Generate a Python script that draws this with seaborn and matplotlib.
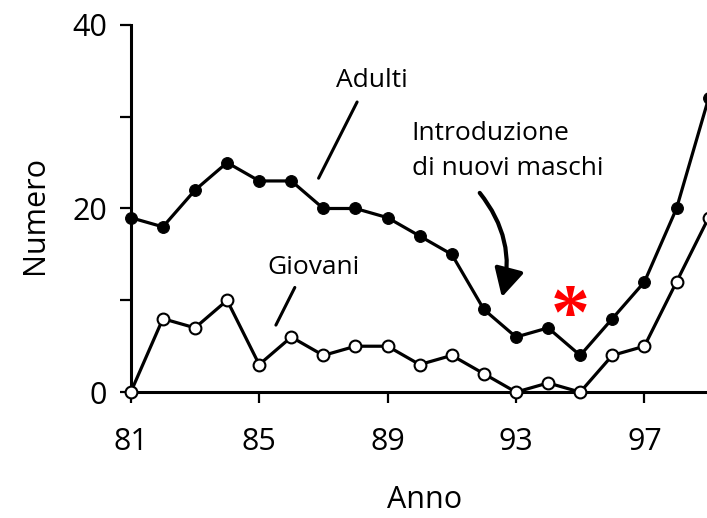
import matplotlib
matplotlib.use("Agg")
import matplotlib.pyplot as plt
import seaborn as sns

sns.set_style("ticks")
plt.rcParams["font.family"] = ["Open Sans", "DejaVu Sans"]
plt.rcParams["text.color"] = "black"
plt.rcParams["axes.labelcolor"] = "black"

# Values
anni = [81, 82, 83, 84, 85, 86, 87, 88, 89, 90, 91, 92, 93, 94, 95, 96, 97, 98, 99]
adulti = [19, 18, 22, 25, 23, 23, 20, 20, 19, 17, 15, 9, 6, 7, 4, 8, 12, 20, 32]
giovani = [0, 8, 7, 10, 3, 6, 4, 5, 5, 3, 4, 2, 0, 1, 0, 4, 5, 12, 19]
x_ticks = [81, 85, 89, 93, 97]
y_ticks = [0, 20, 40]

fig = plt.figure(figsize=(7.07, 5.18), dpi=100)
ax = fig.add_axes([0.185, 0.243, 0.815, 0.709])

sns.lineplot(x=anni, y=adulti, ax=ax, color="black", linewidth=2.3,
             marker="o", markersize=8.5, markerfacecolor="black",
             markeredgecolor="black", clip_on=False, zorder=3)
sns.lineplot(x=anni, y=giovani, ax=ax, color="black", linewidth=2.3,
             marker="o", markersize=8.5, markerfacecolor="white",
             markeredgecolor="black", markeredgewidth=1.5, clip_on=False,
             zorder=3)

ax.set_xlim(81, 98.95)
ax.set_ylim(0, 40)
ax.set_xticks(x_ticks)
ax.set_yticks(y_ticks)
ax.set_yticks([10, 30], minor=True)
ax.tick_params(axis="both", which="both", direction="out", length=8,
               width=1.6, labelsize=22, colors="black")
ax.tick_params(axis="x", pad=17)
ax.tick_params(axis="y", pad=9)
for s in ["top", "right"]:
    ax.spines[s].set_visible(False)
for s in ["left", "bottom"]:
    ax.spines[s].set_linewidth(2.2)
    ax.spines[s].set_color("black")

ax.set_xlabel("Anno", fontsize=22)
ax.set_ylabel("Numero", fontsize=22)
ax.xaxis.set_label_coords(0.51, -0.252)
ax.yaxis.set_label_coords(-0.14, 0.482)

# Annotations
ax.text(88.5, 33.2, "Adulti", fontsize=19, ha="center", va="baseline")
ax.plot([88.05, 86.85], [31.6, 23.3], color="black", linewidth=2.2)
ax.text(86.7, 12.9, "Giovani", fontsize=19, ha="center", va="baseline")
ax.plot([86.11, 85.52], [11.4, 7.3], color="black", linewidth=2.2)
ax.text(89.75, 27.5, "Introduzione", fontsize=19, ha="left", va="baseline")
ax.text(89.75, 23.65, "di nuovi maschi", fontsize=19, ha="left", va="baseline")
ax.annotate("", xy=(92.56, 10.35), xytext=(91.87, 21.7),
            arrowprops=dict(arrowstyle="-|>,head_length=0.85,head_width=0.45",
                            connectionstyle="arc3,rad=-0.25",
                            mutation_scale=20, shrinkA=0, shrinkB=0,
                            color="black", linewidth=3))
ax.text(94.7, 8.0, "*", fontsize=56, color="red", ha="center", va="center",
        family="Liberation Serif", fontweight="bold")

fig.savefig("out.png", dpi=100)
